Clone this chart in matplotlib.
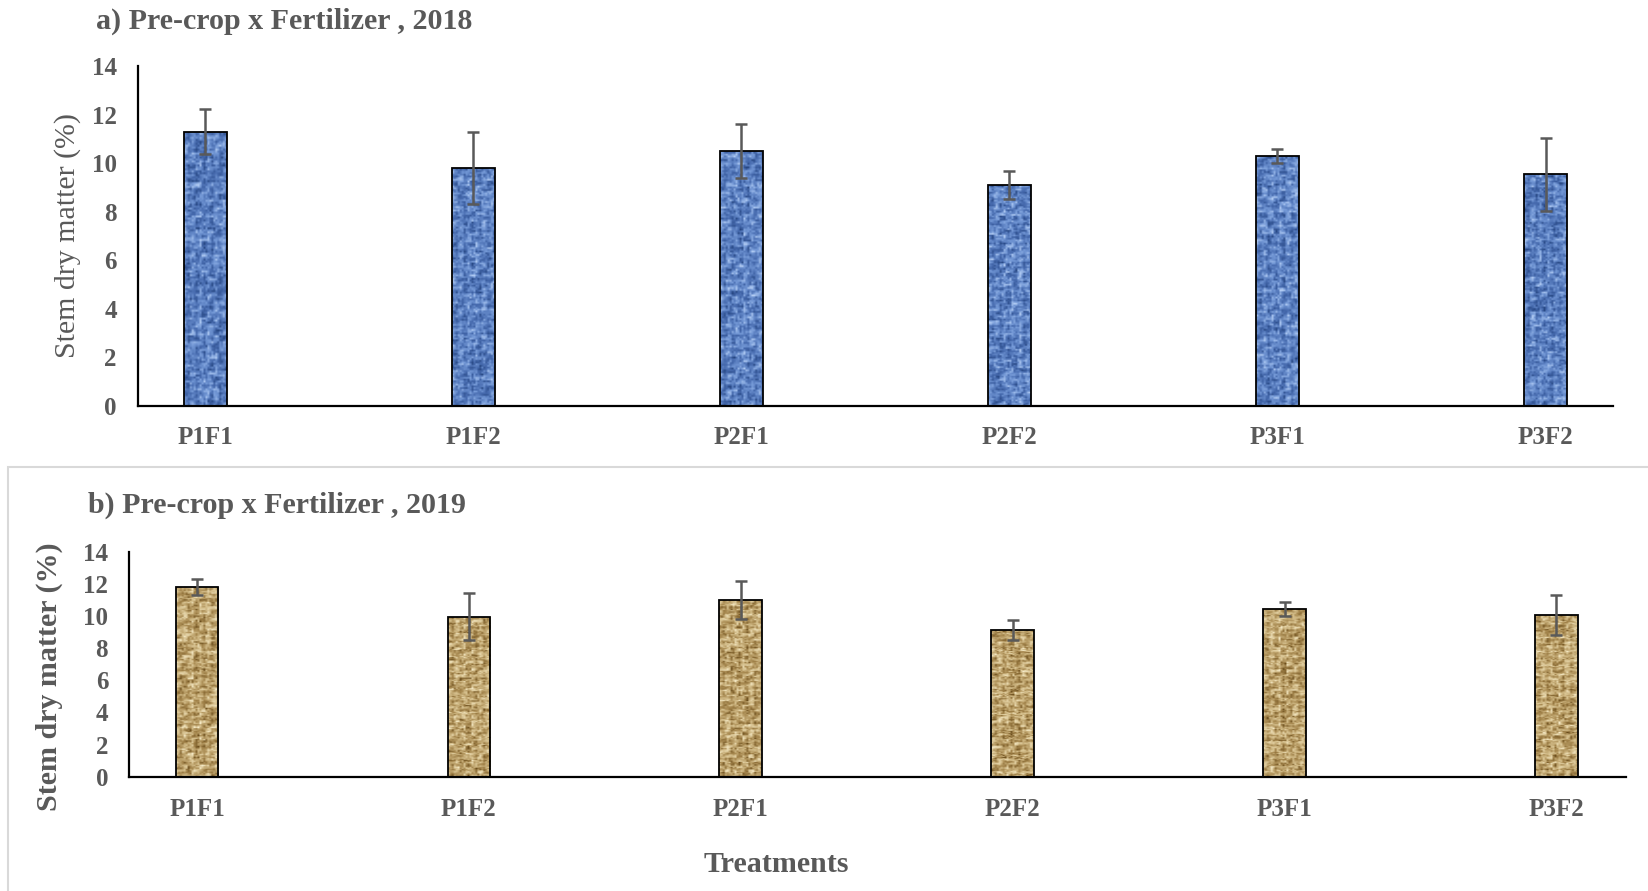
import numpy as np
import matplotlib
matplotlib.use("Agg")
import matplotlib.pyplot as plt
from matplotlib.colors import LinearSegmentedColormap
from matplotlib.patches import Rectangle

# Treatments (pre-crop x fertilizer combinations)
treatments = ["P1F1", "P1F2", "P2F1", "P2F2", "P3F1", "P3F2"]

# Stem dry matter (%) and error bar half-lengths
sdm_2018 = [11.3, 9.8, 10.5, 9.1, 10.3, 9.55]
err_2018 = [0.93, 1.48, 1.1, 0.58, 0.28, 1.5]
sdm_2019 = [11.8, 9.95, 11.0, 9.13, 10.45, 10.05]
err_2019 = [0.5, 1.45, 1.2, 0.6, 0.45, 1.23]

yticks = [0, 2, 4, 6, 8, 10, 12, 14]

TXT = "#595959"
SERIF = ["Liberation Serif", "DejaVu Serif"]
plt.rcParams["font.family"] = SERIF


def weave_texture(h, w, seed):
    """Deterministic woven-fabric texture in [0, 1]."""
    i, j = np.mgrid[0:h, 0:w].astype(float)
    v = np.sin(i * 12.9898 + j * 78.233 + seed) * 43758.5453
    noise = v - np.floor(v)
    v2 = np.sin(np.floor(i / 3) * 4.1 + np.floor(j / 3) * 9.7 + seed * 2.3) * 9173.17
    blocks = v2 - np.floor(v2)
    horiz = 0.5 + 0.5 * np.cos(i * np.pi / 2.0)
    vert = 0.5 + 0.5 * np.cos(j * np.pi / 2.0)
    checker = ((np.floor(i / 4) + np.floor(j / 4)) % 2)
    thread = checker * horiz + (1 - checker) * vert
    t = 0.35 * noise + 0.35 * blocks + 0.30 * thread
    return (t - t.min()) / (t.max() - t.min())


def textured_bars(ax, values, errors, width, cmap, seed):
    x = np.arange(len(values))
    bars = ax.bar(x, values, width=width, facecolor="none", edgecolor="black",
                  linewidth=1.3, zorder=3)
    for k, b in enumerate(bars):
        x0, y0 = b.get_x(), b.get_y()
        bw, bh = b.get_width(), b.get_height()
        tex = weave_texture(140, 22, seed + k * 1.7)
        im = ax.imshow(tex, extent=(x0, x0 + bw, y0, y0 + bh), cmap=cmap,
                       aspect="auto", interpolation="bilinear", zorder=2,
                       origin="lower")
        clip = Rectangle((x0, y0), bw, bh, transform=ax.transData)
        im.set_clip_path(clip)
    ax.errorbar(x, values, yerr=errors, fmt="none", ecolor="#595959",
                elinewidth=1.8, capsize=4.2, capthick=1.8, zorder=4)
    return bars


def style_axes(ax, xpad):
    ax.set_ylim(0, 14)
    ax.set_yticks(yticks)
    ax.set_xticks(np.arange(len(treatments)))
    ax.set_xticklabels(treatments)
    for s in ("top", "right"):
        ax.spines[s].set_visible(False)
    for s in ("left", "bottom"):
        ax.spines[s].set_color("black")
        ax.spines[s].set_linewidth(1.6)
    ax.tick_params(axis="both", length=0, colors=TXT)
    ax.tick_params(axis="y", pad=15, labelsize=18)
    ax.tick_params(axis="x", pad=xpad, labelsize=18)
    for lab in ax.get_xticklabels() + ax.get_yticklabels():
        lab.set_fontweight("bold")
        lab.set_color(TXT)


blue_cmap = LinearSegmentedColormap.from_list(
    "denim", ["#24447f", "#4569ad", "#7398d6", "#b8d1f6"])
burlap_cmap = LinearSegmentedColormap.from_list(
    "burlap", ["#644717", "#a4854c", "#d5bf8c", "#f8eecd"])

fig = plt.figure(figsize=(16.48, 8.91), dpi=100)

# Panel a) 2018
ax1 = fig.add_axes([0.0836, 0.5443, 0.8952, 0.3816])
textured_bars(ax1, sdm_2018, err_2018, 0.16, blue_cmap, 1.0)
ax1.set_xlim(-0.252, 5.252)
style_axes(ax1, 14.5)
fig.text(96 / 1648, 1 - 21 / 891, "a) Pre-crop x Fertilizer , 2018",
         fontsize=21.6, fontweight="bold", color=TXT, ha="left", va="center")
fig.text(68 / 1648, 1 - 236 / 891, "Stem dry matter (%)", fontsize=21.5,
         color=TXT, rotation=90, ha="center", va="center")

# Frame around panel b)
frame = Rectangle((8.3 / 1648, -0.01), 1.1, 1 - 466.7 / 891 + 0.01,
                  transform=fig.transFigure, facecolor="none",
                  edgecolor="#d9d9d9", linewidth=1.5, zorder=0)
fig.add_artist(frame)

# Panel b) 2019
ax2 = fig.add_axes([0.0783, 0.1283, 0.9084, 0.2525])
textured_bars(ax2, sdm_2019, err_2019, 0.157, burlap_cmap, 5.0)
ax2.set_xlim(-0.25, 5.256)
style_axes(ax2, 15.5)
fig.text(88 / 1648, 1 - 505 / 891, "b) Pre-crop x Fertilizer , 2019",
         fontsize=21.6, fontweight="bold", color=TXT, ha="left", va="center")
fig.text(49.5 / 1648, 1 - 677 / 891, "Stem dry matter (%)", fontsize=21.6,
         fontweight="bold", color=TXT, rotation=90, ha="center", va="center")
fig.text(776.5 / 1648, 1 - 865 / 891, "Treatments", fontsize=21.6,
         fontweight="bold", color=TXT, ha="center", va="center")

fig.savefig("out.png", dpi=100)
